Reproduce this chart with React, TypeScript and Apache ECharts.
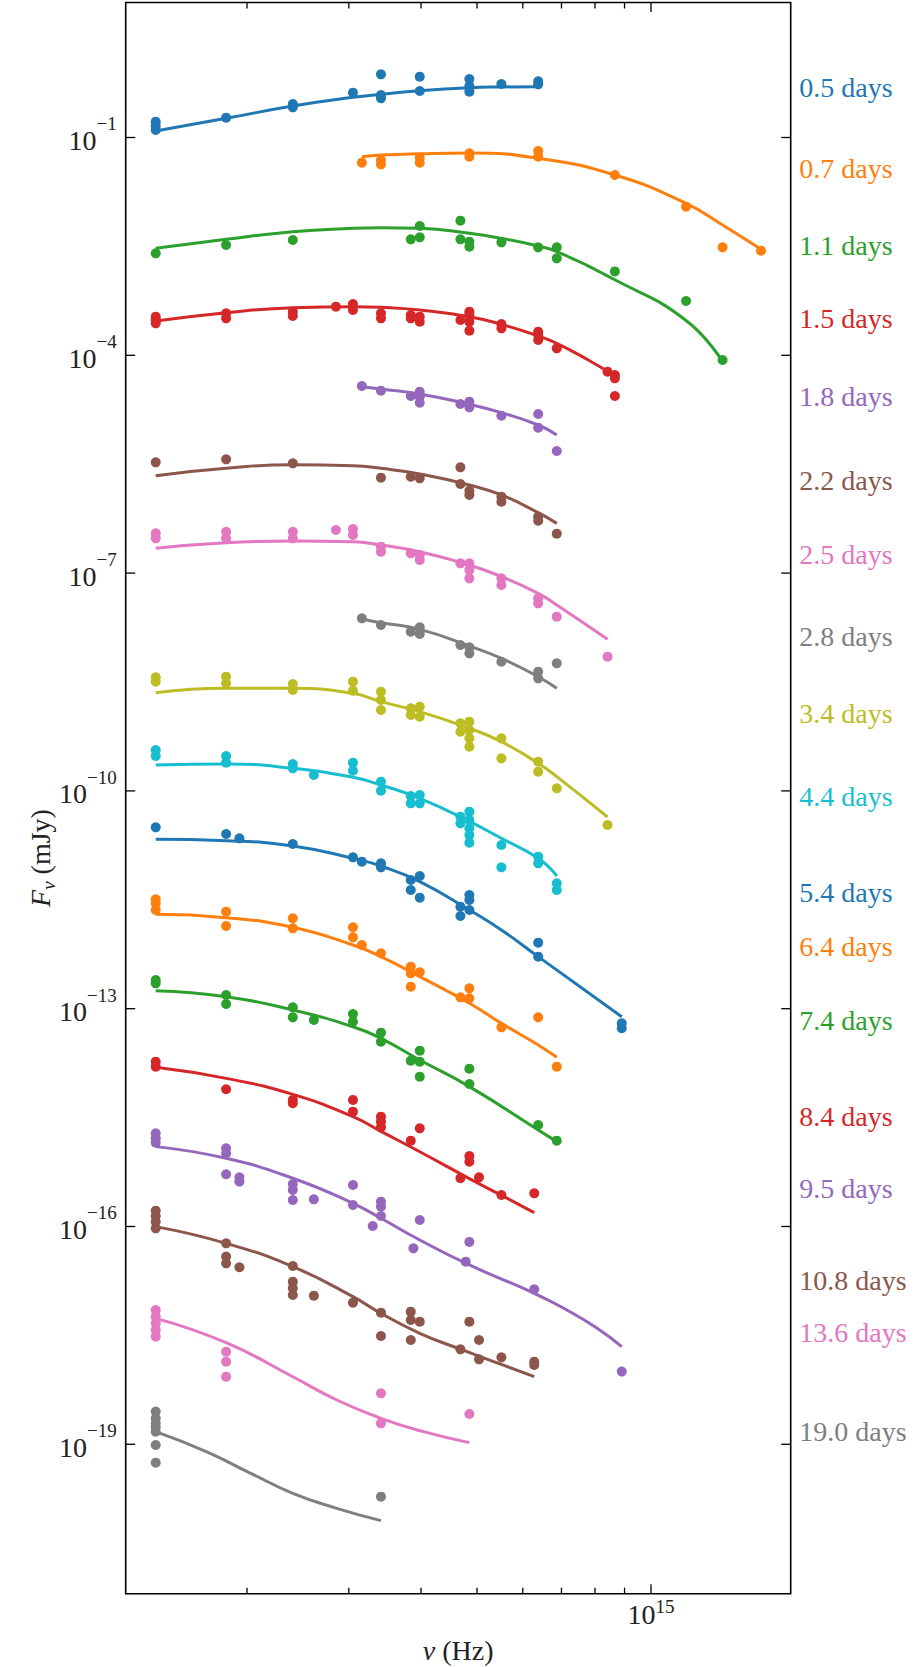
import React, { useEffect, useRef } from "react";
import * as echarts from "echarts";

const FONT = "Liberation Serif";
const TEXT_COLOR = "#222";
const COLORS = ["#1f77b4", "#ff7f0e", "#2ca02c", "#d62728", "#9467bd", "#8c564b", "#e377c2", "#7f7f7f", "#bcbd22", "#17becf"];

const EPOCH_LABELS = ["0.5 days", "0.7 days", "1.1 days", "1.5 days", "1.8 days", "2.2 days", "2.5 days", "2.8 days", "3.4 days", "4.4 days", "5.4 days", "6.4 days", "7.4 days", "8.4 days", "9.5 days", "10.8 days", "13.6 days", "19.0 days"];
// log10 flux (mJy) at which each epoch label sits
const LABEL_LOGF = [-0.309, -1.424, -2.49, -3.49, -4.57, -5.718, -6.737, -7.876, -8.931, -10.08, -11.402, -12.15, -13.169, -14.491, -15.483, -16.75, -17.466, -18.83];

// observations: [frequency (Hz), log10 F_nu (mJy)]
const obs05 = [[1.39e14, -0.782], [1.39e14, -0.842], [1.39e14, -0.897], [1.84e14, -0.727], [2.40e14, -0.539], [2.40e14, -0.584], [3.05e14, -0.382], [3.41e14, -0.13], [3.41e14, -0.414], [3.41e14, -0.46], [3.98e14, -0.162], [3.98e14, -0.359], [4.85e14, -0.194], [4.85e14, -0.291], [4.85e14, -0.369], [5.51e14, -0.263], [6.38e14, -0.226], [6.38e14, -0.268]];
const obs07 = [[3.16e14, -1.347], [3.41e14, -1.31], [3.41e14, -1.37], [3.98e14, -1.278], [3.98e14, -1.347], [4.85e14, -1.218], [4.85e14, -1.264], [6.38e14, -1.186], [6.38e14, -1.264], [8.66e14, -1.516], [1.15e15, -1.953], [1.33e15, -2.513], [1.55e15, -2.559]];
const obs11 = [[1.39e14, -2.596], [1.84e14, -2.481], [2.40e14, -2.412], [3.84e14, -2.403], [3.98e14, -2.219], [3.98e14, -2.375], [4.68e14, -2.146], [4.68e14, -2.403], [4.85e14, -2.435], [4.85e14, -2.504], [5.51e14, -2.444], [6.38e14, -2.513], [6.87e14, -2.513], [6.87e14, -2.664], [8.66e14, -2.845], [1.15e15, -3.252], [1.33e15, -4.065]];
const obs15 = [[1.39e14, -3.468], [1.39e14, -3.514], [1.39e14, -3.56], [1.84e14, -3.422], [1.84e14, -3.491], [2.40e14, -3.399], [2.40e14, -3.459], [2.85e14, -3.33], [3.05e14, -3.293], [3.05e14, -3.376], [3.41e14, -3.422], [3.41e14, -3.491], [3.84e14, -3.445], [3.84e14, -3.491], [3.98e14, -3.468], [3.98e14, -3.537], [4.68e14, -3.514], [4.85e14, -3.399], [4.85e14, -3.445], [4.85e14, -3.537], [4.85e14, -3.661], [5.51e14, -3.569], [5.51e14, -3.629], [6.38e14, -3.675], [6.38e14, -3.72], [6.38e14, -3.789], [6.87e14, -3.904], [8.41e14, -4.226], [8.66e14, -4.271], [8.66e14, -4.317], [8.66e14, -4.561]];
const obs18 = [[3.16e14, -4.423], [3.41e14, -4.487], [3.84e14, -4.561], [3.98e14, -4.501], [3.98e14, -4.57], [3.98e14, -4.652], [4.68e14, -4.671], [4.85e14, -4.639], [4.85e14, -4.717], [5.51e14, -4.832], [6.38e14, -4.809], [6.38e14, -4.997], [6.87e14, -5.318]];
const obs22 = [[1.39e14, -5.474], [1.84e14, -5.433], [2.40e14, -5.488], [3.41e14, -5.686], [3.84e14, -5.672], [3.98e14, -5.695], [4.68e14, -5.543], [4.68e14, -5.773], [4.85e14, -5.865], [4.85e14, -5.924], [5.51e14, -5.947], [5.51e14, -6.016], [6.38e14, -6.223], [6.38e14, -6.278], [6.87e14, -6.457]];
const obs25 = [[1.39e14, -6.452], [1.39e14, -6.521], [1.84e14, -6.43], [1.84e14, -6.521], [2.40e14, -6.43], [2.40e14, -6.521], [2.85e14, -6.407], [3.05e14, -6.393], [3.05e14, -6.475], [3.41e14, -6.636], [3.41e14, -6.705], [3.84e14, -6.728], [3.98e14, -6.751], [3.98e14, -6.82], [4.68e14, -6.866], [4.85e14, -6.866], [4.85e14, -6.957], [4.85e14, -7.072], [5.51e14, -7.072], [5.51e14, -7.164], [6.38e14, -7.348], [6.38e14, -7.416], [6.87e14, -7.6], [8.41e14, -8.151]];
const obs28 = [[3.16e14, -7.623], [3.41e14, -7.715], [3.84e14, -7.807], [3.98e14, -7.747], [3.98e14, -7.839], [4.68e14, -7.99], [4.85e14, -8.023], [4.85e14, -8.105], [5.51e14, -8.22], [6.38e14, -8.358], [6.38e14, -8.45], [6.87e14, -8.243]];
const obs34 = [[1.39e14, -8.436], [1.39e14, -8.495], [1.84e14, -8.427], [1.84e14, -8.518], [2.40e14, -8.528], [2.40e14, -8.61], [3.05e14, -8.495], [3.05e14, -8.619], [3.41e14, -8.633], [3.41e14, -8.748], [3.41e14, -8.886], [3.84e14, -8.863], [3.84e14, -8.955], [3.98e14, -8.84], [3.98e14, -8.978], [4.68e14, -9.069], [4.68e14, -9.184], [4.85e14, -9.046], [4.85e14, -9.161], [4.85e14, -9.276], [4.85e14, -9.391], [5.51e14, -9.276], [5.51e14, -9.552], [6.38e14, -9.597], [6.38e14, -9.735], [6.87e14, -9.965], [8.41e14, -10.47]];
const obs44 = [[1.39e14, -9.437], [1.39e14, -9.519], [1.84e14, -9.519], [1.84e14, -9.611], [2.40e14, -9.63], [2.40e14, -9.689], [2.61e14, -9.781], [3.05e14, -9.611], [3.05e14, -9.721], [3.41e14, -9.873], [3.41e14, -9.997], [3.84e14, -10.07], [3.84e14, -10.171], [3.98e14, -10.057], [3.98e14, -10.171], [4.68e14, -10.355], [4.68e14, -10.447], [4.85e14, -10.286], [4.85e14, -10.401], [4.85e14, -10.516], [4.85e14, -10.607], [4.85e14, -10.713], [5.51e14, -10.745], [5.51e14, -11.053], [6.38e14, -10.906], [6.38e14, -10.998], [6.87e14, -11.273], [6.87e14, -11.365]];
const obs54 = [[1.39e14, -10.502], [1.84e14, -10.594], [1.94e14, -10.653], [2.40e14, -10.731], [3.05e14, -10.915], [3.16e14, -10.975], [3.41e14, -10.998], [3.41e14, -11.053], [3.84e14, -11.227], [3.84e14, -11.365], [3.98e14, -11.172], [3.98e14, -11.471], [4.68e14, -11.595], [4.68e14, -11.723], [4.85e14, -11.434], [4.85e14, -11.503], [4.85e14, -11.641], [6.38e14, -12.09], [6.38e14, -12.283], [8.90e14, -13.202], [8.90e14, -13.27]];
const obs64 = [[1.39e14, -11.494], [1.39e14, -11.549], [1.39e14, -11.641], [1.84e14, -11.664], [1.84e14, -11.861], [2.40e14, -11.755], [2.40e14, -11.893], [3.05e14, -11.879], [3.05e14, -12.017], [3.16e14, -12.123], [3.41e14, -12.237], [3.84e14, -12.421], [3.84e14, -12.513], [3.84e14, -12.697], [3.98e14, -12.499], [4.68e14, -12.844], [4.85e14, -12.72], [4.85e14, -12.857], [5.51e14, -13.257], [6.38e14, -13.119], [6.87e14, -13.799]];
const obs74 = [[1.39e14, -12.605], [1.39e14, -12.651], [1.84e14, -12.811], [1.84e14, -12.935], [2.40e14, -12.981], [2.40e14, -13.119], [2.61e14, -13.156], [3.05e14, -13.073], [3.05e14, -13.179], [3.41e14, -13.33], [3.41e14, -13.454], [3.84e14, -13.716], [3.98e14, -13.578], [3.98e14, -13.73], [3.98e14, -13.936], [4.85e14, -13.826], [4.85e14, -14.037], [6.38e14, -14.602], [6.87e14, -14.818]];
const obs84 = [[1.39e14, -13.73], [1.39e14, -13.799], [1.84e14, -14.11], [2.40e14, -14.257], [2.40e14, -14.303], [3.05e14, -14.257], [3.05e14, -14.418], [3.41e14, -14.487], [3.41e14, -14.556], [3.41e14, -14.634], [3.84e14, -14.818], [3.98e14, -14.648], [4.68e14, -15.336], [4.85e14, -15.029], [4.85e14, -15.107], [5.04e14, -15.323], [5.51e14, -15.566], [6.28e14, -15.543]];
const obs95 = [[1.39e14, -14.717], [1.39e14, -14.785], [1.39e14, -14.845], [1.84e14, -14.923], [1.84e14, -14.992], [1.84e14, -15.281], [1.94e14, -15.323], [1.94e14, -15.382], [2.40e14, -15.415], [2.40e14, -15.497], [2.40e14, -15.635], [2.61e14, -15.626], [3.05e14, -15.428], [3.05e14, -15.704], [3.30e14, -15.993], [3.41e14, -15.658], [3.41e14, -15.727], [3.41e14, -15.855], [3.88e14, -16.301], [3.98e14, -15.91], [4.78e14, -16.484], [4.85e14, -16.213], [6.28e14, -16.865], [8.90e14, -17.999]];
const obs108 = [[1.39e14, -15.782], [1.39e14, -15.855], [1.39e14, -15.933], [1.39e14, -16.025], [1.84e14, -16.232], [1.84e14, -16.415], [1.84e14, -16.507], [1.94e14, -16.562], [2.40e14, -16.544], [2.40e14, -16.76], [2.40e14, -16.852], [2.40e14, -16.943], [2.61e14, -16.953], [3.05e14, -17.049], [3.41e14, -17.187], [3.41e14, -17.508], [3.84e14, -17.173], [3.84e14, -17.288], [3.84e14, -17.563], [3.98e14, -17.311], [4.68e14, -17.692], [4.85e14, -17.311], [5.04e14, -17.563], [5.04e14, -17.83], [5.51e14, -17.802], [6.28e14, -17.862], [6.28e14, -17.908]];
const obs136 = [[1.39e14, -17.15], [1.39e14, -17.242], [1.39e14, -17.334], [1.39e14, -17.425], [1.39e14, -17.517], [1.84e14, -17.724], [1.84e14, -17.862], [1.84e14, -18.068], [3.41e14, -18.298], [3.41e14, -18.711], [4.85e14, -18.583]];
const obs190 = [[1.39e14, -18.55], [1.39e14, -18.642], [1.39e14, -18.711], [1.39e14, -18.766], [1.39e14, -18.826], [1.39e14, -19.01], [1.39e14, -19.253], [3.41e14, -19.721]];

// model curves: [frequency (Hz), log10 F_nu (mJy)]
const model05 = [[1.39e14, -0.91], [1.84e14, -0.736], [2.40e14, -0.566], [3.05e14, -0.447], [3.41e14, -0.405], [3.98e14, -0.355], [4.85e14, -0.314], [5.51e14, -0.304], [6.38e14, -0.3]];
const model07 = [[3.16e14, -1.264], [3.41e14, -1.241], [3.98e14, -1.223], [4.85e14, -1.213], [6.38e14, -1.287], [8.66e14, -1.516], [1.15e15, -1.907], [1.33e15, -2.205], [1.55e15, -2.54]];
const model11 = [[1.39e14, -2.527], [1.84e14, -2.403], [2.40e14, -2.297], [3.05e14, -2.251], [3.41e14, -2.242], [3.98e14, -2.251], [4.85e14, -2.32], [5.51e14, -2.389], [6.38e14, -2.495], [6.87e14, -2.573], [8.66e14, -2.96], [1.15e15, -3.52], [1.33e15, -4.088]];
const model15 = [[1.39e14, -3.528], [1.84e14, -3.413], [2.40e14, -3.344], [3.05e14, -3.33], [3.41e14, -3.339], [3.98e14, -3.376], [4.85e14, -3.468], [5.51e14, -3.574], [6.38e14, -3.734], [6.87e14, -3.835], [7.79e14, -4.065], [8.66e14, -4.285]];
const model18 = [[3.16e14, -4.432], [3.41e14, -4.464], [3.98e14, -4.533], [4.85e14, -4.675], [5.51e14, -4.79], [6.38e14, -4.96], [6.87e14, -5.098]];
const model22 = [[1.39e14, -5.658], [1.84e14, -5.557], [2.40e14, -5.506], [3.05e14, -5.52], [3.41e14, -5.557], [3.98e14, -5.635], [4.85e14, -5.787], [5.51e14, -5.924], [6.38e14, -6.168], [6.87e14, -6.315]];
const model25 = [[1.39e14, -6.659], [1.84e14, -6.581], [2.40e14, -6.558], [3.05e14, -6.567], [3.41e14, -6.613], [3.98e14, -6.705], [4.85e14, -6.888], [5.51e14, -7.049], [6.38e14, -7.279], [6.87e14, -7.439], [8.41e14, -7.912]];
const model28 = [[3.16e14, -7.632], [3.41e14, -7.683], [3.98e14, -7.775], [4.85e14, -8.004], [5.51e14, -8.174], [6.38e14, -8.427], [6.87e14, -8.587]];
const model34 = [[1.39e14, -8.647], [1.84e14, -8.587], [2.40e14, -8.587], [3.05e14, -8.656], [3.41e14, -8.771], [3.98e14, -8.909], [4.85e14, -9.138], [5.51e14, -9.322], [6.38e14, -9.62], [6.87e14, -9.804], [8.41e14, -10.36]];
const model44 = [[1.39e14, -9.643], [1.84e14, -9.63], [2.40e14, -9.689], [3.05e14, -9.813], [3.41e14, -9.919], [3.98e14, -10.102], [4.85e14, -10.42], [5.51e14, -10.653], [6.38e14, -10.929], [6.87e14, -11.172]];
const model54 = [[1.39e14, -10.667], [1.84e14, -10.686], [2.40e14, -10.759], [3.05e14, -10.929], [3.41e14, -11.035], [3.98e14, -11.25], [4.85e14, -11.641], [5.51e14, -11.916], [6.38e14, -12.283], [8.90e14, -13.11]];
const model64 = [[1.39e14, -11.7], [1.84e14, -11.746], [2.40e14, -11.879], [3.05e14, -12.123], [3.41e14, -12.283], [3.98e14, -12.559], [4.85e14, -12.926], [5.51e14, -13.202], [6.38e14, -13.5], [6.87e14, -13.67]];
const model74 = [[1.39e14, -12.752], [1.84e14, -12.834], [2.40e14, -13.018], [3.05e14, -13.248], [3.41e14, -13.408], [3.98e14, -13.707], [4.85e14, -14.074], [6.38e14, -14.671], [6.87e14, -14.831]];
const model84 = [[1.39e14, -13.808], [1.84e14, -13.96], [2.40e14, -14.18], [3.05e14, -14.487], [3.41e14, -14.69], [3.98e14, -14.97], [4.85e14, -15.34], [5.51e14, -15.57], [6.28e14, -15.809]];
const model95 = [[1.39e14, -14.9], [1.84e14, -15.061], [2.40e14, -15.336], [3.05e14, -15.681], [3.41e14, -15.887], [3.98e14, -16.186], [4.85e14, -16.53], [6.28e14, -16.92], [7.15e14, -17.15], [8.07e14, -17.402], [8.90e14, -17.655]];
const model108 = [[1.39e14, -16.002], [1.84e14, -16.232], [2.40e14, -16.553], [3.05e14, -16.966], [3.41e14, -17.196], [3.98e14, -17.471], [4.68e14, -17.69], [5.51e14, -17.9], [6.28e14, -18.068]];
const model136 = [[1.39e14, -17.265], [1.84e14, -17.6], [2.40e14, -18.07], [2.86e14, -18.39], [3.41e14, -18.642], [4.04e14, -18.826], [4.85e14, -18.977]];
const model190 = [[1.39e14, -18.826], [1.70e14, -19.101], [2.03e14, -19.4], [2.40e14, -19.675], [2.86e14, -19.882], [3.41e14, -20.052]];

const OBS = [obs05, obs07, obs11, obs15, obs18, obs22, obs25, obs28, obs34, obs44, obs54, obs64, obs74, obs84, obs95, obs108, obs136, obs190];
const MODELS = [model05, model07, model11, model15, model18, model22, model25, model28, model34, model44, model54, model64, model74, model84, model95, model108, model136, model190];

// axes
const X_MINOR_TICKS = [2e14, 3e14, 4e14, 5e14, 6e14, 7e14, 8e14, 9e14];
const X_MAJOR_TICKS = [1e15];
const Y_MAJOR_EXPONENTS = [-1, -4, -7, -10, -13, -16, -19];
const X_MIN = 1.2333e14;
const X_MAX = 1.7448e15;
const Y_MIN_EXP = -21.058;
const Y_MAX_EXP = 0.8595;

const toPoints = (arr: number[][]) => arr.map(([nu, lf]) => [nu, Math.pow(10, lf)]);

const supRichY = {
  b: { fontFamily: FONT, fontSize: 28, lineHeight: 40, verticalAlign: "bottom", fill: TEXT_COLOR },
  s: { fontFamily: FONT, fontSize: 19, verticalAlign: "top", fill: TEXT_COLOR },
};
const supRichX = {
  b: { fontFamily: FONT, fontSize: 28, lineHeight: 31, verticalAlign: "bottom", fill: TEXT_COLOR },
  s: { fontFamily: FONT, fontSize: 19, verticalAlign: "top", fill: TEXT_COLOR },
};

export default function App() {
  const ref = useRef<HTMLDivElement>(null);
  useEffect(() => {
    if (!ref.current) return;
    const chart = echarts.init(ref.current, undefined, { renderer: "svg" });
    const series: any[] = [];
    OBS.forEach((obs, i) => {
      const color = COLORS[i % COLORS.length];
      series.push({
        type: "line",
        data: toPoints(MODELS[i]),
        smooth: 0.5,
        showSymbol: false,
        symbol: "none",
        silent: true,
        z: 2,
        lineStyle: { color, width: 3 },
        itemStyle: { color },
      });
      series.push({
        type: "scatter",
        data: toPoints(obs),
        symbol: "circle",
        symbolSize: 10,
        silent: true,
        z: 3,
        itemStyle: { color, opacity: 1 },
      });
    });

    const tickStyle = { stroke: "#000", lineWidth: 1.3 };
    // x minor ticks (bottom & top, inward)
    series.push({
      type: "custom",
      coordinateSystem: "cartesian2d",
      silent: true,
      z: 5,
      data: X_MINOR_TICKS.map((v) => [v, 1e-10]),
      renderItem: (params: any, api: any) => {
        const cs = params.coordSys;
        const x = api.coord([api.value(0), 1e-10])[0];
        const bottom = cs.y + cs.height;
        return {
          type: "group",
          children: [
            { type: "line", shape: { x1: x, y1: bottom, x2: x, y2: bottom - 6 }, style: tickStyle },
            { type: "line", shape: { x1: x, y1: cs.y, x2: x, y2: cs.y + 6 }, style: tickStyle },
          ],
        };
      },
    });
    // x major ticks with labels
    series.push({
      type: "custom",
      coordinateSystem: "cartesian2d",
      silent: true,
      z: 5,
      data: X_MAJOR_TICKS.map((v) => [v, 1e-10]),
      renderItem: (params: any, api: any) => {
        const cs = params.coordSys;
        const v = api.value(0);
        const x = api.coord([v, 1e-10])[0];
        const bottom = cs.y + cs.height;
        const exp = Math.round(Math.log10(v));
        return {
          type: "group",
          children: [
            { type: "line", shape: { x1: x, y1: bottom, x2: x, y2: bottom - 9.5 }, style: tickStyle },
            { type: "line", shape: { x1: x, y1: cs.y, x2: x, y2: cs.y + 9.5 }, style: tickStyle },
            {
              type: "text",
              x: x,
              y: bottom + 3.5,
              style: {
                text: "{b|10}{s|" + exp + "}",
                rich: supRichX,
                align: "center",
                verticalAlign: "top",
                fill: TEXT_COLOR,
                fontFamily: FONT,
                fontSize: 28,
              },
            },
          ],
        };
      },
    });
    // y major ticks with labels (left & right, inward)
    series.push({
      type: "custom",
      coordinateSystem: "cartesian2d",
      silent: true,
      z: 5,
      data: Y_MAJOR_EXPONENTS.map((e) => [3e14, Math.pow(10, e)]),
      renderItem: (params: any, api: any) => {
        const cs = params.coordSys;
        const v = api.value(1);
        const y = api.coord([3e14, v])[1];
        const exp = Math.round(Math.log10(v));
        const right = cs.x + cs.width;
        const expText = exp < 0 ? "\u2212" + Math.abs(exp) : String(exp);
        return {
          type: "group",
          children: [
            { type: "line", shape: { x1: cs.x, y1: y, x2: cs.x + 9.5, y2: y }, style: tickStyle },
            { type: "line", shape: { x1: right, y1: y, x2: right - 9.5, y2: y }, style: tickStyle },
            {
              type: "text",
              x: cs.x - 9,
              y: y - 23,
              style: {
                text: "{b|10}{s|" + expText + "}",
                rich: supRichY,
                align: "right",
                verticalAlign: "top",
                fill: TEXT_COLOR,
                fontFamily: FONT,
                fontSize: 28,
              },
            },
          ],
        };
      },
    });
    // epoch labels on the right
    series.push({
      type: "custom",
      coordinateSystem: "cartesian2d",
      silent: true,
      z: 5,
      data: LABEL_LOGF.map((lf) => [3e14, Math.pow(10, lf)]),
      renderItem: (params: any, api: any) => {
        const cs = params.coordSys;
        const y = api.coord([3e14, api.value(1)])[1];
        const idx = params.dataIndex;
        return {
          type: "text",
          x: cs.x + cs.width + 8.5,
          y: y,
          style: {
            text: EPOCH_LABELS[idx],
            fill: COLORS[idx % COLORS.length],
            fontFamily: FONT,
            fontSize: 28,
            align: "left",
            verticalAlign: "middle",
          },
        };
      },
    });

    chart.setOption({
      animation: false,
      backgroundColor: "#fff",
      grid: {
        left: 125.7,
        right: 128.3,
        top: 2.5,
        bottom: 73.3,
        show: true,
        borderColor: "#000",
        borderWidth: 1.6,
        backgroundColor: "transparent",
      },
      xAxis: {
        type: "log",
        min: X_MIN,
        max: X_MAX,
        axisLine: { show: false },
        axisTick: { show: false },
        axisLabel: { show: false },
        splitLine: { show: false },
        minorTick: { show: false },
        minorSplitLine: { show: false },
      },
      yAxis: {
        type: "log",
        min: Math.pow(10, Y_MIN_EXP),
        max: Math.pow(10, Y_MAX_EXP),
        axisLine: { show: false },
        axisTick: { show: false },
        axisLabel: { show: false },
        splitLine: { show: false },
        minorTick: { show: false },
        minorSplitLine: { show: false },
      },
      graphic: [
        {
          type: "text",
          x: 458.2,
          y: 1650,
          style: {
            text: "{i|\u03bd}{n| (Hz)}",
            rich: {
              i: { fontFamily: FONT, fontSize: 28, fontStyle: "italic", fill: TEXT_COLOR },
              n: { fontFamily: FONT, fontSize: 28, fill: TEXT_COLOR },
            },
            fontFamily: FONT,
            fontSize: 28,
            align: "center",
            verticalAlign: "middle",
            fill: TEXT_COLOR,
          },
        },
        {
          type: "text",
          x: 42,
          y: 858,
          rotation: Math.PI / 2,
          style: {
            text: "{i|F}{sub|\u03bd}{n| (mJy)}",
            rich: {
              i: { fontFamily: FONT, fontSize: 28, fontStyle: "italic", lineHeight: 32, verticalAlign: "top", fill: TEXT_COLOR },
              sub: { fontFamily: FONT, fontSize: 19, fontStyle: "italic", verticalAlign: "bottom", fill: TEXT_COLOR },
              n: { fontFamily: FONT, fontSize: 28, lineHeight: 32, verticalAlign: "top", fill: TEXT_COLOR },
            },
            fontFamily: FONT,
            fontSize: 28,
            align: "center",
            verticalAlign: "middle",
            fill: TEXT_COLOR,
          },
        },
      ],
      series,
    });
    return () => chart.dispose();
  }, []);
  return (
    <div
      ref={ref}
      style={{ position: "absolute", left: 0, top: 0, width: 919, height: 1667, background: "#fff" }}
    />
  );
}
